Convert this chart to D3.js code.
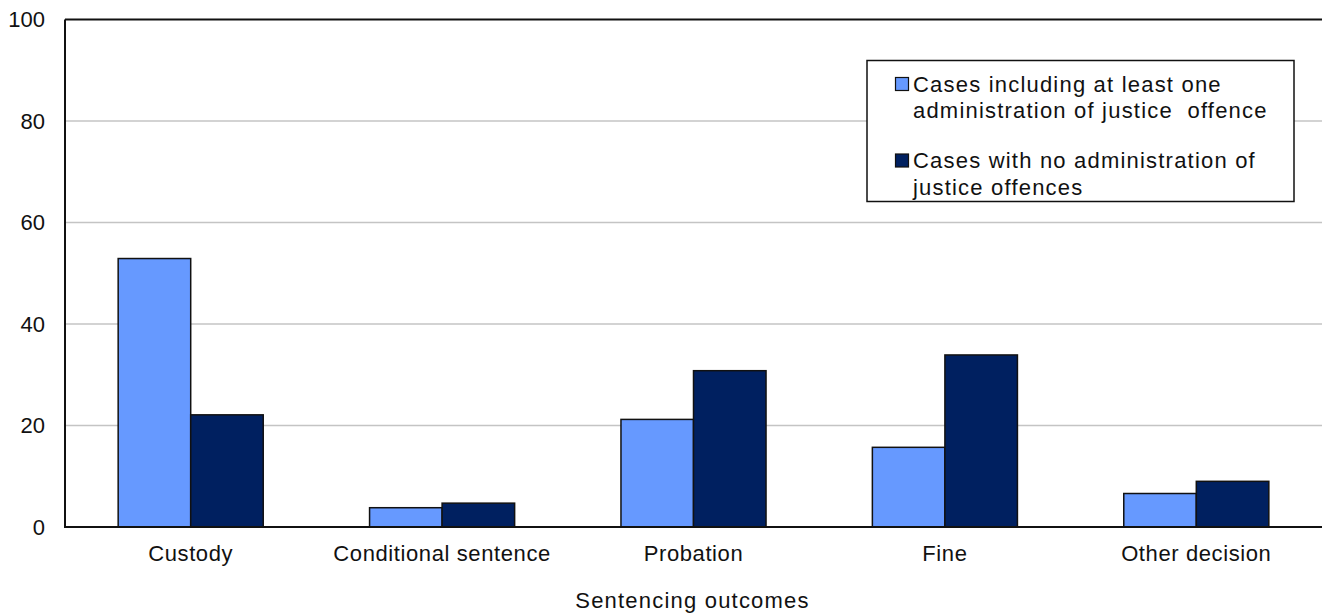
<!DOCTYPE html>
<html>
<head>
<meta charset="utf-8">
<script src="https://cdn.jsdelivr.net/npm/d3@7"></script>
<style>
  html, body { margin: 0; padding: 0; background: #fff; }
  svg { display: block; }
  text { font-family: "Liberation Sans", Arial, sans-serif; fill: #111; }
</style>
</head>
<body>
<svg id="chart" width="1322" height="614"></svg>
<script>
const categories = ["Custody", "Conditional sentence", "Probation", "Fine", "Other decision"];
const seriesNames = ["Cases including at least one administration of justice offence",
                     "Cases with no administration of justice offences"];
const withAdmin = [52.9, 3.8, 21.2, 15.7, 6.6];
const withoutAdmin = [22.1, 4.7, 30.8, 33.9, 9.0];
const yTicks = [0, 20, 40, 60, 80, 100];
const legendLines = [["Cases including at least one", "administration of justice  offence"],
                     ["Cases with no administration of", "justice offences"]];
const colors = ["#6699ff", "#002060"];
const xTitle = "Sentencing outcomes";

const svg = d3.select("#chart");
const mLeft = 65, mRight = 1322, mTop = 19.5, mBottom = 527;

const x = d3.scaleBand().domain(categories).range([mLeft, mRight]).paddingInner(0).paddingOuter(0);
const xs = d3.scaleBand().domain([0, 1]).range([0, x.bandwidth()]).paddingInner(0).paddingOuter(0.733);
const y = d3.scaleLinear().domain([0, 100]).range([mBottom, mTop]);

// gridlines
svg.append("g").selectAll("line").data(yTicks.filter(d => d > 0 && d < 100)).join("line")
  .attr("x1", mLeft).attr("x2", mRight)
  .attr("y1", d => y(d)).attr("y2", d => y(d))
  .attr("stroke", "#c4c4c4").attr("stroke-width", 1.5);

// top border
svg.append("line").attr("x1", mLeft).attr("x2", mRight).attr("y1", y(100)).attr("y2", y(100))
  .attr("stroke", "#111").attr("stroke-width", 2);

// bars
const series = [withAdmin, withoutAdmin];
series.forEach((vals, si) => {
  svg.append("g").selectAll("rect").data(vals).join("rect")
    .attr("x", (d, i) => x(categories[i]) + xs(si))
    .attr("width", xs.bandwidth())
    .attr("y", d => y(d))
    .attr("height", d => y(0) - y(d))
    .attr("fill", colors[si])
    .attr("stroke", "#111").attr("stroke-width", 1.5);
});

// axes lines
svg.append("line").attr("x1", mLeft).attr("x2", mLeft).attr("y1", mTop).attr("y2", mBottom)
  .attr("stroke", "#111").attr("stroke-width", 2);
svg.append("line").attr("x1", mLeft - 1).attr("x2", mRight).attr("y1", mBottom).attr("y2", mBottom)
  .attr("stroke", "#111").attr("stroke-width", 2);

// y tick labels
svg.append("g").selectAll("text").data(yTicks).join("text")
  .attr("x", 45).attr("y", d => y(d)).attr("dy", "0.36em")
  .attr("text-anchor", "end").style("font-size", "22px")
  .text(d => d);

// category labels
svg.append("g").selectAll("text").data(categories).join("text")
  .attr("x", d => x(d) + x.bandwidth() / 2).attr("y", 561)
  .attr("text-anchor", "middle").style("font-size", "22px").style("letter-spacing", "0.6px")
  .text(d => d);

// x title
svg.append("text").attr("x", (mLeft + mRight) / 2 - 1).attr("y", 608)
  .attr("text-anchor", "middle").style("font-size", "22px").style("letter-spacing", "1.2px")
  .text(xTitle);

// legend
const lg = svg.append("g");
lg.append("rect").attr("x", 867).attr("y", 60.5).attr("width", 427).attr("height", 141)
  .attr("fill", "#fff").attr("stroke", "#111").attr("stroke-width", 1.5);
const itemY = [77.5, 154];
seriesNames.forEach((name, i) => {
  lg.append("rect").attr("x", 895.5).attr("y", itemY[i]).attr("width", 13).attr("height", 13)
    .attr("fill", colors[i]).attr("stroke", "#111").attr("stroke-width", 1.2);
  legendLines[i].forEach((ln, j) => {
    lg.append("text").attr("x", 913).attr("y", itemY[i] + 14 + j * 26.5)
      .style("font-size", "22px").style("letter-spacing", "1.2px")
      .style("white-space", "pre").attr("xml:space", "preserve")
      .text(ln);
  });
});
</script>
</body>
</html>
